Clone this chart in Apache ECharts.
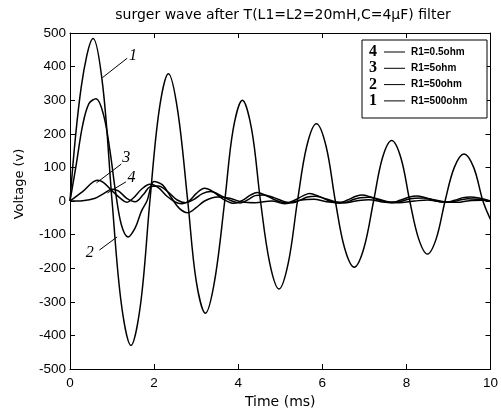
<!DOCTYPE html>
<html>
<head>
<meta charset="utf-8">
<script src="https://cdn.jsdelivr.net/npm/echarts@6/dist/echarts.min.js"></script>
<style>html,body{margin:0;padding:0;background:#fff}#c{width:501px;height:414px}</style>
</head>
<body>
<div id="c"></div>
<script>
// ---- data ----
const xTicks = [0, 2, 4, 6, 8, 10];
const yTicks = [-500, -400, -300, -200, -100, 0, 100, 200, 300, 400, 500];

// curve 1 : R1 = 500 ohm
const t1 = [0, 0.27, 0.55, 0.78, 1.0, 1.22, 1.45, 1.68, 1.9, 2.12, 2.34, 2.56, 2.8, 3.0, 3.22, 3.44, 3.68, 3.88, 4.1, 4.32, 4.53, 4.75, 4.97, 5.19, 5.41, 5.63, 5.86, 6.09, 6.31, 6.53, 6.76, 6.99, 7.22, 7.43, 7.65, 7.87, 8.08, 8.29, 8.5, 8.71, 8.92, 9.14, 9.37, 9.6, 9.82, 10];
const v1 = [0, 342, 484, 342, 0, -305, -430, -305, 0, 270, 379, 270, 0, -237, -334, -237, 0, 213, 300, 213, 0, -185, -262, -185, 0, 163, 230, 163, 0, -140, -197, -140, 0, 128, 180, 128, 0, -112, -158, -112, 0, 100, 140, 100, 0, -55];

// curve 2 : R1 = 50 ohm
const t2 = [0, 0.15, 0.3, 0.45, 0.62, 0.8, 0.95, 1.08, 1.22, 1.38, 1.55, 1.7, 1.83, 2.0, 2.2, 2.4, 2.6, 2.8, 3.0, 3.2, 3.5, 3.8, 4.1, 4.4, 4.8, 5.1, 5.5, 5.8, 6.1, 6.5, 6.8, 7.1, 7.5, 7.8, 8.2, 8.5, 8.8, 9.2, 9.5, 9.8, 10];
const v2 = [0, 110, 225, 290, 304, 255, 150, 30, -70, -107, -80, -30, 0, 58, 48, 12, -22, -35, -20, 0, 12, 8, -3, -5, 0, -8, 3, 5, -2, -6, 0, 4, -4, -5, 0, 3, -2, -4, 1, 2, 0];

// curve 3 : R1 = 5 ohm
const t3 = [0, 0.3, 0.65, 0.8, 1.0, 1.2, 1.35, 1.5, 1.7, 1.9, 2.1, 2.3, 2.5, 2.65, 2.85, 3.0, 3.2, 3.4, 3.65, 3.9, 4.1, 4.3, 4.45, 4.65, 4.9, 5.15, 5.35, 5.55, 5.7, 5.9, 6.15, 6.4, 6.6, 6.8, 6.95, 7.15, 7.4, 7.65, 7.85, 8.05, 8.24, 8.45, 8.7, 8.95, 9.15, 9.35, 9.52, 9.75, 10];
const v3 = [0, 28, 62, 55, 30, 8, -4, 8, 35, 50, 40, 15, -3, -8, 2, 22, 38, 28, 5, -7, 2, 18, 25, 17, 2, -6, 3, 16, 22, 15, 1, -6, 3, 14, 18, 12, 1, -5, 2, 11, 15, 10, 0, -4, 2, 10, 12, 8, 0];

// curve 4 : R1 = 0.5 ohm
const t4 = [0, 0.3, 0.6, 0.8, 1.0, 1.15, 1.35, 1.55, 1.75, 1.9, 2.1, 2.35, 2.55, 2.75, 2.95, 3.15, 3.35, 3.6, 3.85, 4.05, 4.25, 4.4, 4.6, 4.85, 5.1, 5.3, 5.5, 5.65, 5.85, 6.1, 6.35, 6.55, 6.75, 6.9, 7.1, 7.35, 7.6, 7.8, 8.0, 8.2, 8.4, 8.65, 8.9, 9.1, 9.3, 9.47, 9.7, 10];
const v4 = [0, 1, 8, 22, 35, 30, 8, -2, 20, 42, 45, 25, 3, -5, 5, 22, 28, 15, 0, -6, 5, 16, 18, 10, -2, -5, 4, 12, 14, 6, -3, -4, 5, 10, 11, 5, -3, -3, 4, 8, 9, 4, -2, -2, 4, 7, 5, 0];

const legendNums = ['4', '3', '2', '1'];
const legendTexts = ['R1=0.5ohm', 'R1=5ohm', 'R1=50ohm', 'R1=500ohm'];

// curve annotations: label, label anchor (t,v), leader line from/to (t,v)
const annLabels = ['1', '3', '4', '2'];
const annText = [[1.5, 433], [1.34, 128], [1.46, 68], [0.47, -155]];
const annFrom = [[1.36, 425], [1.22, 110], [1.33, 57], [0.7, -146]];
const annTo = [[0.77, 367], [0.63, 54], [0.89, 24], [1.12, -107]];

const titleText = 'surger wave after T(L1=L2=20mH,C=4\u03bcF) filter';

// ---- chart ----
const zip = (t, v) => t.map((x, i) => [x, v[i]]);
const FONT = 'Liberation Sans, Arial, sans-serif';
const WIDE = 'DejaVu Sans, sans-serif';
const chart = echarts.init(document.getElementById('c'));

const axisBase = {
  type: 'value',
  axisLine: { show: true, onZero: false, lineStyle: { color: '#000', width: 1 } },
  axisTick: { show: true, inside: true, length: 5, lineStyle: { color: '#000' } },
  splitLine: { show: false },
  axisLabel: { color: '#000', fontSize: 13.5, fontFamily: FONT }
};

function lineSeries(name, data) {
  return {
    name, type: 'line', data, showSymbol: false, smooth: 0.35,
    lineStyle: { color: '#000', width: 1.5 }, itemStyle: { color: '#000' },
    animation: false
  };
}

chart.setOption({
  animation: false,
  backgroundColor: '#fff',
  grid: { left: 70, right: 4, top: 33, bottom: 44, containLabel: false },
  xAxis: [
    Object.assign({}, axisBase, {
      min: xTicks[0], max: xTicks[xTicks.length - 1], interval: 2, position: 'bottom',
      axisLabel: Object.assign({}, axisBase.axisLabel, { margin: 7, formatter: v => xTicks.includes(v) ? String(v) : '' }),
      name: 'Time (ms)', nameLocation: 'middle', nameGap: 26,
      nameTextStyle: { color: '#000', fontSize: 14, fontFamily: WIDE }
    }),
    Object.assign({}, axisBase, {
      min: xTicks[0], max: xTicks[xTicks.length - 1], interval: 2, position: 'top',
      axisLabel: { show: false }
    })
  ],
  yAxis: [
    Object.assign({}, axisBase, {
      min: yTicks[0], max: yTicks[yTicks.length - 1], interval: 100, position: 'left',
      axisLabel: Object.assign({}, axisBase.axisLabel, { margin: 4, formatter: v => yTicks.includes(v) ? String(v) : '' })
    }),
    Object.assign({}, axisBase, {
      min: yTicks[0], max: yTicks[yTicks.length - 1], interval: 100, position: 'right',
      axisLabel: { show: false }
    })
  ],
  series: [
    lineSeries('R1=500ohm', zip(t1, v1)),
    lineSeries('R1=50ohm', zip(t2, v2)),
    lineSeries('R1=5ohm', zip(t3, v3)),
    lineSeries('R1=0.5ohm', zip(t4, v4))
  ]
});

// ---- graphics: title, y name, legend box, curve annotations ----
const g = [];
g.push({ type: 'text', x: 283, y: 15, style: { text: titleText, fill: '#000', font: '14px ' + WIDE, textAlign: 'center', textVerticalAlign: 'middle' } });
g.push({ type: 'text', x: 20, y: 184, rotation: Math.PI / 2, style: { text: 'Voltage (v)', fill: '#000', font: '13px ' + WIDE, textAlign: 'center', textVerticalAlign: 'middle' } });

// legend box
g.push({ type: 'rect', shape: { x: 362, y: 40, width: 125, height: 78 }, style: { fill: '#fff', stroke: '#000', lineWidth: 1 }, z: 10 });
legendNums.forEach((n, i) => {
  const y = 52 + i * 16.3;
  g.push({ type: 'text', x: 373, y: y, z: 11, style: { text: n, fill: '#000', font: 'bold 16px Liberation Serif, Times New Roman, serif', textAlign: 'center', textVerticalAlign: 'middle' } });
  g.push({ type: 'line', z: 11, shape: { x1: 384, y1: y, x2: 405, y2: y }, style: { stroke: '#000', lineWidth: 1 } });
  g.push({ type: 'text', x: 411, y: y, z: 11, style: { text: legendTexts[i], fill: '#000', font: 'bold 10px ' + FONT, textAlign: 'left', textVerticalAlign: 'middle' } });
});

// annotations in data coordinates
annLabels.forEach((lab, i) => {
  const p = chart.convertToPixel({ xAxisIndex: 0, yAxisIndex: 0 }, annText[i]);
  const a = chart.convertToPixel({ xAxisIndex: 0, yAxisIndex: 0 }, annFrom[i]);
  const b = chart.convertToPixel({ xAxisIndex: 0, yAxisIndex: 0 }, annTo[i]);
  g.push({ type: 'line', z: 12, shape: { x1: a[0], y1: a[1], x2: b[0], y2: b[1] }, style: { stroke: '#000', lineWidth: 1 } });
  g.push({ type: 'text', x: p[0], y: p[1], z: 12, style: { text: lab, fill: '#000', font: 'italic 16px Liberation Serif, Times New Roman, serif', textAlign: 'center', textVerticalAlign: 'middle' } });
});

chart.setOption({ graphic: g });
</script>
</body>
</html>
